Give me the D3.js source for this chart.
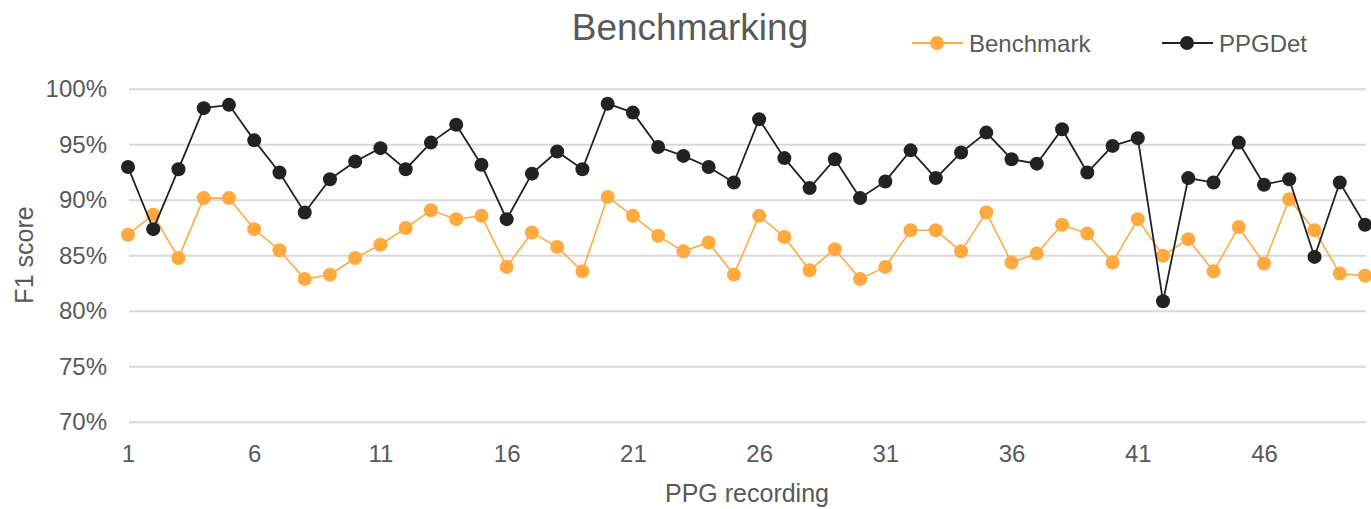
<!DOCTYPE html>
<html>
<head>
<meta charset="utf-8">
<script src="https://cdn.jsdelivr.net/npm/d3@7"></script>
<style>
  html, body { margin: 0; padding: 0; background: #fff; }
  svg text { font-family: "Liberation Sans", Arial, sans-serif; fill: #595959; }
</style>
</head>
<body>
<svg id="chart" width="1371" height="509"></svg>
<script>
const recordings = d3.range(1, 51);
const benchmark = [86.9, 88.7, 84.8, 90.2, 90.2, 87.4, 85.5, 82.9, 83.3, 84.8,
                   86.0, 87.5, 89.1, 88.3, 88.6, 84.0, 87.1, 85.8, 83.6, 90.3,
                   88.6, 86.8, 85.4, 86.2, 83.3, 88.6, 86.7, 83.7, 85.6, 82.9,
                   84.0, 87.3, 87.3, 85.4, 88.9, 84.4, 85.2, 87.8, 87.0, 84.4,
                   88.3, 85.0, 86.5, 83.6, 87.6, 84.3, 90.1, 87.3, 83.4, 83.2];
const ppgdet = [93.0, 87.4, 92.8, 98.3, 98.6, 95.4, 92.5, 88.9, 91.9, 93.5,
                94.7, 92.8, 95.2, 96.8, 93.2, 88.3, 92.4, 94.4, 92.8, 98.7,
                97.9, 94.8, 94.0, 93.0, 91.6, 97.3, 93.8, 91.1, 93.7, 90.2,
                91.7, 94.5, 92.0, 94.3, 96.1, 93.7, 93.3, 96.4, 92.5, 94.9,
                95.6, 80.9, 92.0, 91.6, 95.2, 91.4, 91.9, 84.9, 91.6, 87.8];
const xTicks = [1, 6, 11, 16, 21, 26, 31, 36, 41, 46];
const yTicks = [70, 75, 80, 85, 90, 95, 100];
const seriesNames = ["Benchmark", "PPGDet"];
const seriesColors = ["#FFA93F", "#222222"];

const svg = d3.select("#chart");
const x = d3.scaleLinear().domain([1, 50]).range([128, 1365]);
const y = d3.scaleLinear().domain([70, 100]).range([422.3, 89.3]);

// gridlines
svg.append("g").selectAll("line").data(yTicks).join("line")
  .attr("x1", 129).attr("x2", 1366)
  .attr("y1", d => y(d)).attr("y2", d => y(d))
  .attr("stroke", "#D9D9D9").attr("stroke-width", 2);

// y axis labels
const yAxis = d3.axisLeft(y).tickValues(yTicks).tickSize(0).tickPadding(0)
  .tickFormat(d => d + "%");
svg.append("g").attr("transform", "translate(107,0)").call(yAxis)
  .call(g => g.select(".domain").remove())
  .selectAll("text").attr("font-size", 24).attr("fill", "#595959")
  .attr("font-family", "'Liberation Sans', Arial, sans-serif");

// x axis labels
const xAxis = d3.axisBottom(x).tickValues(xTicks).tickSize(0).tickPadding(0);
svg.append("g").attr("transform", "translate(0,445)").call(xAxis)
  .call(g => g.select(".domain").remove())
  .selectAll("text").attr("font-size", 24).attr("fill", "#595959")
  .attr("font-family", "'Liberation Sans', Arial, sans-serif");

// series
const allSeries = [benchmark, ppgdet];
allSeries.forEach((vals, i) => {
  const pts = recordings.map((r, j) => [r, vals[j]]);
  const line = d3.line().x(d => x(d[0])).y(d => y(d[1]));
  const g = svg.append("g");
  g.append("path").datum(pts).attr("d", line)
    .attr("fill", "none").attr("stroke", seriesColors[i])
    .attr("stroke-width", i === 0 ? 1.6 : 1.8);
  g.selectAll("circle").data(pts).join("circle")
    .attr("cx", d => x(d[0])).attr("cy", d => y(d[1]))
    .attr("r", 7).attr("fill", seriesColors[i]);
});

// title
svg.append("text").attr("x", 690).attr("y", 40)
  .attr("text-anchor", "middle").attr("font-size", 37).text("Benchmarking");

// legend
const legendX = [912, 1162];
seriesNames.forEach((name, i) => {
  const g = svg.append("g").attr("transform", `translate(${legendX[i]},43)`);
  g.append("line").attr("x1", 0).attr("x2", 51).attr("y1", 0).attr("y2", 0)
    .attr("stroke", seriesColors[i]).attr("stroke-width", 2);
  g.append("circle").attr("cx", 25).attr("cy", 0).attr("r", 7).attr("fill", seriesColors[i]);
  g.append("text").attr("x", 57).attr("y", 8.5).attr("font-size", 24).text(name);
});

// axis titles
svg.append("text").attr("transform", "translate(33,255) rotate(-90)")
  .attr("text-anchor", "middle").attr("font-size", 25).text("F1 score");
svg.append("text").attr("x", 747).attr("y", 502)
  .attr("text-anchor", "middle").attr("font-size", 25).text("PPG recording");
</script>
</body>
</html>
